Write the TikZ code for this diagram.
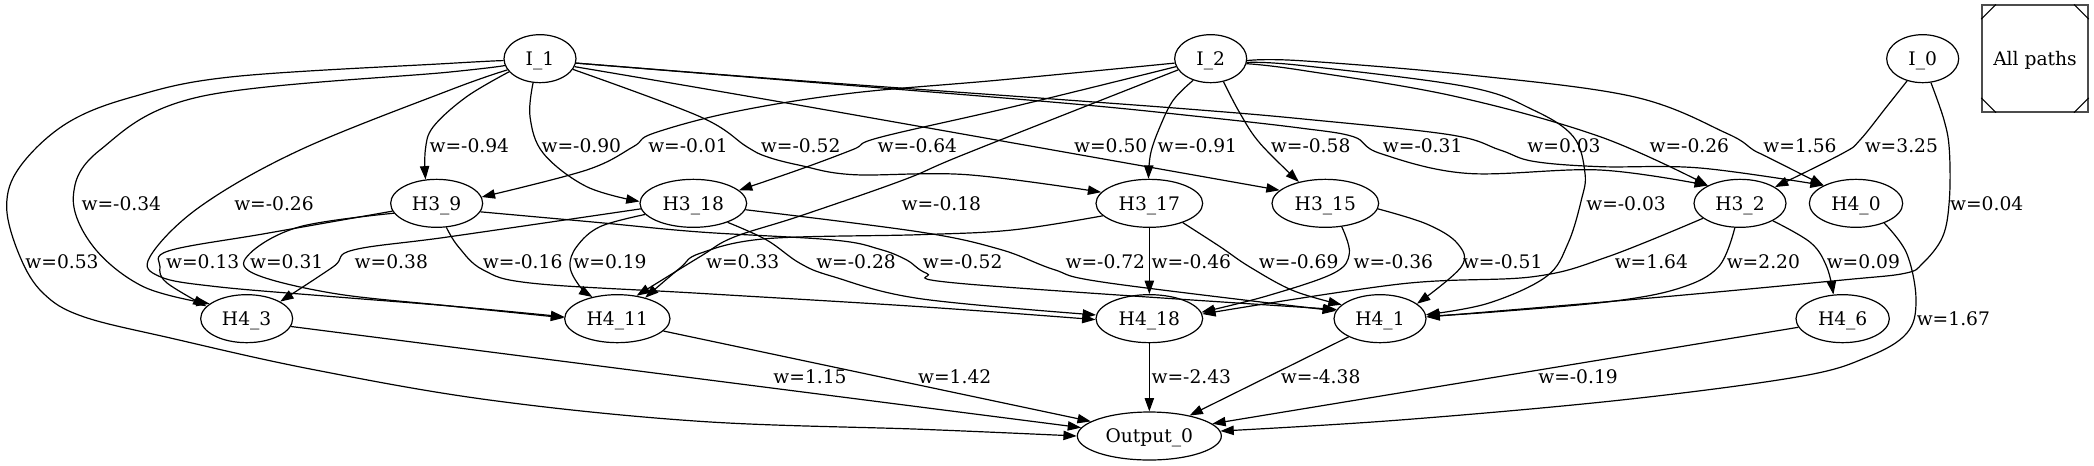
\documentclass[tikz,border=0pt]{standalone}
\usepackage{fontspec}
\setmainfont{DejaVu Serif}
\usetikzlibrary{arrows.meta,shapes.geometric}
\begin{document}
\begin{tikzpicture}[x=1pt,y=-1pt,
  nd/.style={draw, ellipse, line width=0.9pt, inner sep=0pt, minimum height=36pt,
     font=\fontsize{14}{16}\selectfont, text height=10.2pt, text depth=0pt},
  e/.style={line width=0.9pt, -{Triangle[length=10pt,width=7pt]}},
  lb/.style={inner sep=0pt, font=\fontsize{14}{16}\selectfont, text height=10.2pt, text depth=0pt},
  sm/.style={smooth, tension=0.6}]
\fill[white] (0,0) rectangle (1570.5,348.75);
\useasboundingbox (0,0) rectangle (1570.5,348.75);

% nodes
\node[nd, minimum width=54pt] (I1) at (405,44) {I\_1};
\node[nd, minimum width=54pt] (I2) at (908,44) {I\_2};
\node[nd, minimum width=54pt] (I0) at (1442,44) {I\_0};
\node[nd, minimum width=69pt] (h39) at (327.5,152.5) {H3\_9};
\node[nd, minimum width=80pt] (h318) at (520,152.5) {H3\_18};
\node[nd, minimum width=80pt] (h317) at (862,152.5) {H3\_17};
\node[nd, minimum width=80pt] (h315) at (994,152.5) {H3\_15};
\node[nd, minimum width=69pt] (h32) at (1305,152.5) {H3\_2};
\node[nd, minimum width=70pt] (h40) at (1392,152.5) {H4\_0};
\node[nd, minimum width=69pt] (h43) at (185,239) {H4\_3};
\node[nd, minimum width=79pt] (h411) at (463,239) {H4\_11};
\node[nd, minimum width=80pt] (h418) at (862,239) {H4\_18};
\node[nd, minimum width=69pt] (h41) at (1035,239) {H4\_1};
\node[nd, minimum width=70pt] (h46) at (1382,239) {H4\_6};
\node[nd, minimum width=108pt] (out) at (862,327) {Output\_0};

% All paths box
\node[draw=black!70, line width=1.1pt, minimum width=79.5pt, minimum height=80pt, inner sep=0pt,
  font=\fontsize{14}{16}\selectfont, text height=10.2pt, text depth=0pt] (ap) at (1526.25,43.9) {All paths};
\draw[line width=0.8pt] ([xshift=11pt]ap.north west) -- ([yshift=-11pt]ap.north west);
\draw[line width=0.8pt] ([xshift=-11pt]ap.north east) -- ([yshift=-11pt]ap.north east);
\draw[line width=0.8pt] ([xshift=11pt]ap.south west) -- ([yshift=11pt]ap.south west);
\draw[line width=0.8pt] ([xshift=-11pt]ap.south east) -- ([yshift=11pt]ap.south east);

% I_1 edges
\draw[e] plot[sm] coordinates {(I1.183) (337.5,47.5) (175,57.5) (100,72.5) (50,92.5) (15,125) (5,155) (15,192.5) (32.5,220) (62.5,237.5) (130,254) (234,277) (367,300) (525,316) (692,322) (out.180)};
\draw[e] plot[sm] coordinates {(I1.191) (337.5,54) (150,72.5) (75,112.5) (55,147.5) (70,185) (107.5,215) (h43.158)};
\draw[e] plot[sm] coordinates {(I1.199) (337.5,67.5) (225,112.5) (150,155) (112.5,192.5) (120,207.5) (162.5,215) (250,222.5) (337.5,229.5) (h411.178)};
\draw[e] plot[sm] coordinates {(I1.203) (350,72.5) (325,95) (319,112.5) (h39.115)};
\draw[e] plot[sm] coordinates {(I1.254) (397.5,87.5) (407.5,115) (440,140) (h318.178)};
\draw[e] plot[sm] coordinates {(I1.342) (525,87.5) (560,110) (575,117.5) (600,124) (640,131) (725,131) (h317.167)};
\draw[e] plot[sm] coordinates {(I1.347) (600,79) (h315.164)};
\draw[e] plot[sm] coordinates {(I1.353) (600,61) (800,77.5) (900,87.5) (975,96) (1015,102.5) (1035,115) (1100,130) (1200,127.5) (h32.151)};
\draw[e] plot[sm] coordinates {(I1.353) (600,60.5) (800,75) (900,82.5) (975,89) (1087,101) (1125,112.5) (1150,121) (1200,125) (1275,126) (h40.151)};

% I_2 edges
\draw[e] plot[sm] coordinates {(I2.187) (750,60) (637.5,70) (550,84) (490,100) (475,110) (440,127.5) (h39.8)};
\draw[e] plot[sm] coordinates {(I2.193) (760,80) (660,103) (640,112) (600,127) (h318.16)};
\draw[e] plot[sm] coordinates {(I2.199) (725,115) (677.5,135) (600,162) (550,178) (525,192.5) (h411.50)};
\draw[e] plot[sm] coordinates {(I2.231) (880,75) (870,95) (863,115) (h317.92)};
\draw[e] plot[sm] coordinates {(I2.299) (930,85) (945,107.5) (h315.141)};
\draw[e] plot[sm] coordinates {(I2.352) (975,52.5) (1090,72) (1200,102.5) (h32.151)};
\draw[e] plot[sm] coordinates {(I2.357) (975,45.5) (1100,56) (1225,72.5) (1295,100) (1315,112.5) (1325,117.5) (h40.151)};
\draw[e] plot[sm] coordinates {(I2.354) (975,49) (1100,65) (1150,82.5) (1180,102.5) (1188.75,130) (1186,150) (1176,182.5) (1159.6,207.5) (1116,227.5) (h41.5)};

% I_0 edges
\draw[e] plot[sm] coordinates {(I0.235) (1415,80) (1395,105) (1382,115) (h32.25)};
\draw[e] plot[sm] coordinates {(I0.289) (1458,90) (1462,112.5) (1462,150) (1457,177.5) (1442,197.5) (1428.5,205) (1382,210) (1249,222.5) (h41.2)};

% H3_9 edges
\draw[e] plot[sm] coordinates {(h39.190) (200,175) (127,188) (120,200) (125,212) (h43.163)};
\draw[e] plot[sm] coordinates {(h39.193) (225,170) (187.5,190) (190,205) (250,220) (337.5,229.5) (h411.179)};
\draw[e] plot[sm] coordinates {(h39.292) (343.75,185) (362.5,202.5) (400,212.5) (525,220) (690,230) (h418.181)};
\draw[e] plot[sm] coordinates {(h39.349) (450,167) (525,174) (625,180) (660,187) (680,195) (695,205) (725,213) (h41.168)};

% H3_18 edges
\draw[e] plot[sm] coordinates {(h318.186) (337.5,177.5) (265,187.5) (250,200) (h43.27)};
\draw[e] plot[sm] coordinates {(h318.193) (450,170) (432.5,185) (427.5,200) (435,215) (h411.139)};
\draw[e] plot[sm] coordinates {(h318.331) (575,180) (600,197.5) (625,207.5) (690,224) (h418.176)};
\draw[e] plot[sm] coordinates {(h318.353) (690,174) (750,187) (790,202) (830,212) (h41.170)};

% H3_17 edges
\draw[e] plot[sm] coordinates {(h317.195) (759,172.5) (690,176) (575,179) (525,190) (510,201) (h411.37)};
\draw[e] (h317.south) -- (h418.north);
\draw[e] plot[sm] coordinates {(h317.330) (915,185) (937,200) (970,218) (h41.160)};

% H3_15 edges
\draw[e] plot[sm] coordinates {(h315.305) (1012,190) (1000,205) (950,222) (h418.7)};
\draw[e] plot[sm] coordinates {(h315.354) (1070,168) (1093,182.5) (1096,200) (h41.22)};

% H3_2 edges
\draw[e] plot[sm] coordinates {(h32.202) (1206,192.5) (1150,207.5) (1050,213) (h418.5)};
\draw[e] plot[sm] coordinates {(h32.258) (1289,200) (1260,216) (1209,226) (1120,234) (h41.3)};
\draw[e] plot[sm] coordinates {(h32.332) (1358,182) (1370,200) (h46.111)};

% H4_0 edge
\draw[e] plot[sm] coordinates {(h40.325) (1430,190) (1437,225) (1430,250) (1400,268) (1349,282.5) (1216,300) (1050,315) (out.4)};

% H4 -> Output
\draw[e] (h46.191) -- (out.11);
\draw[e] (h41.210) -- (out.27);
\draw[e] (h418.south) -- (out.north);
\draw[e] (h411.345) -- (out.166);
\draw[e] (h43.350) -- (out.173);

% labels
\node[lb] (l1) at (352,109) {w=-0.94};
\node[lb] (l2) at (436,109) {w=-0.90};
\node[lb] (l3) at (516,109) {w=-0.01};
\node[lb] (l4) at (600.5,109) {w=-0.52};
\node[lb] (l5) at (688,109) {w=-0.64};
\node[lb] (l6) at (833,109) {w=0.50};
\node[lb] (l7) at (898,109) {w=-0.91};
\node[lb] (l8) at (983,109) {w=-0.58};
\node[lb] (l9) at (1067,109) {w=-0.31};
\node[lb] (l10) at (1173,109) {w=0.03};
\node[lb] (l11) at (1267,109) {w=-0.26};
\node[lb] (l12) at (1350,109) {w=1.56};
\node[lb] (l13) at (1426,109) {w=3.25};
\node[lb] (l14) at (91,152.5) {w=-0.34};
\node[lb] (l15) at (205.5,152.5) {w=-0.26};
\node[lb] (l16) at (706,152.5) {w=-0.18};
\node[lb] (l17) at (1219.5,152.5) {w=-0.03};
\node[lb] (l18) at (1490,152.5) {w=0.04};
\node[lb] (l19) at (46.5,196) {w=0.53};
\node[lb] (l20) at (152,196) {w=0.13};
\node[lb] (l21) at (215,196) {w=0.31};
\node[lb] (l22) at (293.5,196) {w=0.38};
\node[lb] (l23) at (392,196) {w=-0.16};
\node[lb] (l24) at (457.5,196) {w=0.19};
\node[lb] (l25) at (557,196) {w=0.33};
\node[lb] (l26) at (642,196) {w=-0.28};
\node[lb] (l27) at (722,196) {w=-0.52};
\node[lb] (l28) at (829,196) {w=-0.72};
\node[lb] (l29) at (893.5,196) {w=-0.46};
\node[lb] (l30) at (974,196) {w=-0.69};
\node[lb] (l31) at (1045,196) {w=-0.36};
\node[lb] (l32) at (1127,196) {w=-0.51};
\node[lb] (l33) at (1238.5,196) {w=1.64};
\node[lb] (l34) at (1322.5,196) {w=2.20};
\node[lb] (l35) at (1397.5,196) {w=0.09};
\node[lb] (l36) at (1465,239) {w=1.67};
\node[lb] (l37) at (607.5,282.5) {w=1.15};
\node[lb] (l38) at (716,282.5) {w=1.42};
\node[lb] (l39) at (893.5,282.5) {w=-2.43};
\node[lb] (l40) at (990.5,282.5) {w=-4.38};
\node[lb] (l41) at (1183.5,282.5) {w=-0.19};
\end{tikzpicture}
\end{document}
